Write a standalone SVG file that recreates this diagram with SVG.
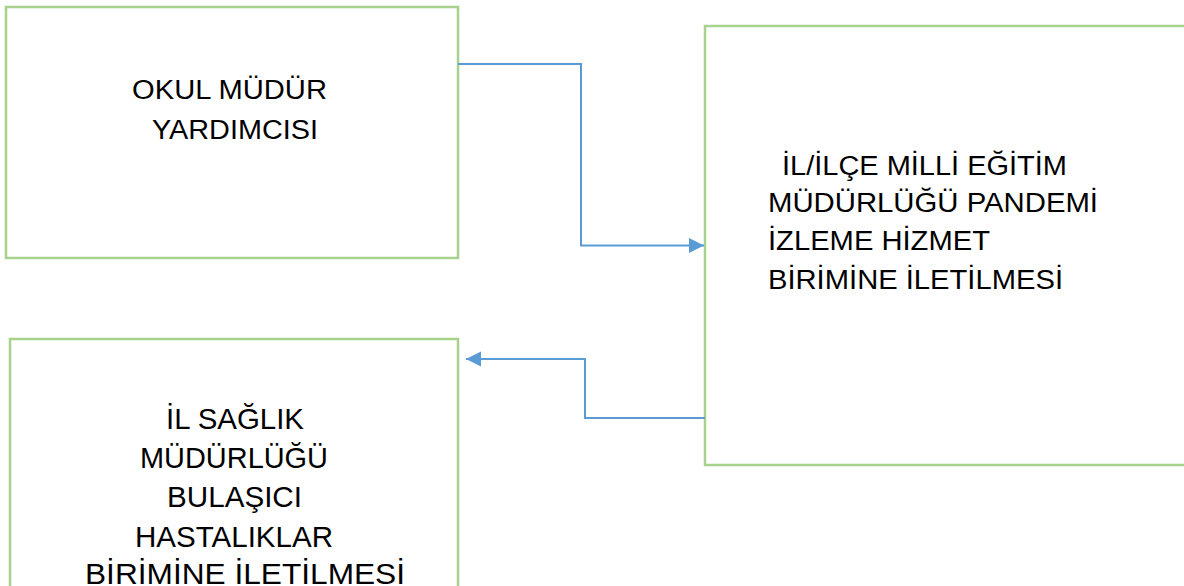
<svg xmlns="http://www.w3.org/2000/svg" width="1184" height="586" viewBox="0 0 1184 586">
<defs>
<style>
.box{fill:#FFFFFF;stroke:#A9D18E;stroke-width:2.5}
.t{font-family:"Liberation Sans",Arial,sans-serif;fill:#000000}
.t1{font-size:27px}
.t2{font-size:27px}
.t3{font-size:30px}
.conn{fill:none;stroke:#5B9BD5;stroke-width:2}
</style>
<marker id="ah" markerWidth="16" markerHeight="16" refX="15" refY="7.5" orient="auto" markerUnits="userSpaceOnUse">
<path d="M0,0 L15,7.5 L0,15 Z" fill="#5B9BD5"/>
</marker>
</defs>
<rect width="1184" height="586" fill="#FFFFFF"/>
<g id="node-okul">
<rect class="box" x="6" y="7" width="452" height="251"/>
<text class="t t1" x="132" y="99" textLength="195" lengthAdjust="spacingAndGlyphs">OKUL MÜDÜR</text>
<text class="t t1" x="152" y="139" textLength="166" lengthAdjust="spacingAndGlyphs">YARDIMCISI</text>
</g>
<g id="node-ilce">
<rect class="box" x="705" y="26" width="490" height="439"/>
<text class="t t2" x="782" y="175" textLength="285" lengthAdjust="spacingAndGlyphs">İL/İLÇE MİLLİ EĞİTİM</text>
<text class="t t2" x="768" y="212" textLength="330" lengthAdjust="spacingAndGlyphs">MÜDÜRLÜĞÜ PANDEMİ</text>
<text class="t t2" x="768" y="250" textLength="222" lengthAdjust="spacingAndGlyphs">İZLEME HİZMET</text>
<text class="t t2" x="768" y="289" textLength="295" lengthAdjust="spacingAndGlyphs">BİRİMİNE İLETİLMESİ</text>
</g>
<g id="node-saglik">
<rect class="box" x="10" y="339" width="448" height="270"/>
<text class="t t3" x="166" y="429" textLength="138" lengthAdjust="spacingAndGlyphs">İL SAĞLIK</text>
<text class="t t3" x="140" y="468" textLength="188" lengthAdjust="spacingAndGlyphs">MÜDÜRLÜĞÜ</text>
<text class="t t3" x="167" y="507" textLength="135" lengthAdjust="spacingAndGlyphs">BULAŞICI</text>
<text class="t t3" x="135" y="547" textLength="198" lengthAdjust="spacingAndGlyphs">HASTALIKLAR</text>
<text class="t t3" x="85" y="584" textLength="320" lengthAdjust="spacingAndGlyphs">BİRİMİNE İLETİLMESİ</text>
</g>
<g id="connectors">
<path class="conn" d="M458,64 H581 V245.5 H704" marker-end="url(#ah)"/>
<path class="conn" d="M705,418 H585 V359 H466" marker-end="url(#ah)"/>
</g>
</svg>
